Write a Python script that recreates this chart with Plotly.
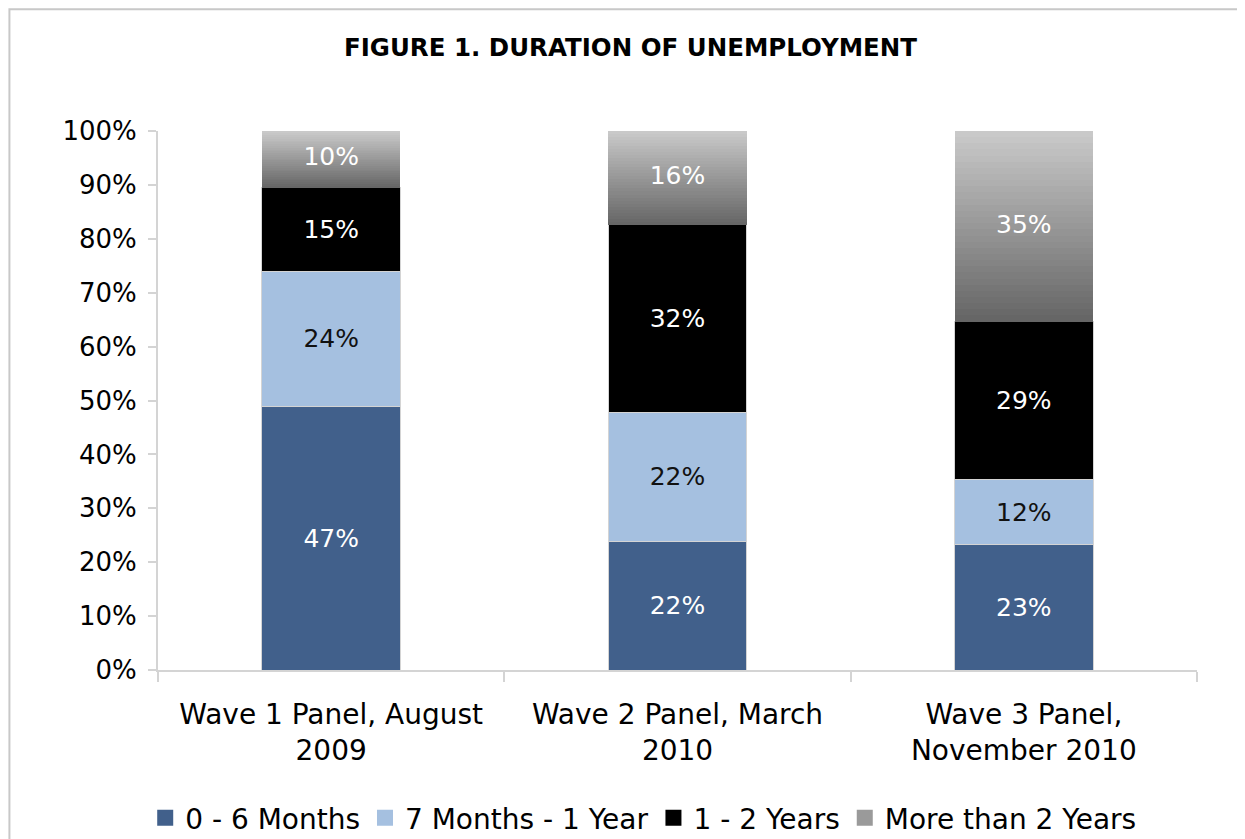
import plotly.graph_objects as go

categories = ["Wave 1 Panel, August<br>2009", "Wave 2 Panel, March<br>2010", "Wave 3 Panel,<br>November 2010"]
months_0_6 = [47, 22, 23]
months_7_12 = [24, 22, 12]
years_1_2 = [15, 32, 29]
years_2_plus = [10, 16, 35]

FONT = "DejaVu Sans"
line_style = dict(color="#d4d4d4", width=1)
LBL = 25

fig = go.Figure()

def add_seg(vals, color, txtcolor):
    fig.add_trace(go.Bar(
        x=categories, y=vals, showlegend=False,
        marker=dict(color=color, line=line_style),
        text=[f"{v}%" for v in vals], textposition="inside",
        insidetextanchor="middle", textangle=0, constraintext="none",
        textfont=dict(family=FONT, size=LBL, color=txtcolor),
        hoverinfo="skip",
    ))

add_seg(months_0_6, "#41608b", "white")
add_seg(months_7_12, "#a5c0e0", "#111111")
add_seg(years_1_2, "#000000", "white")

# gradient for "More than 2 Years": split the segment into thin slices
N = 31
c0, c1 = 0x66, 0xc9
for i in range(N):
    g = int(round(c0 + (c1 - c0) * i / (N - 1)))
    col = f"rgb({g},{g},{g})"
    fig.add_trace(go.Bar(
        x=categories, y=[v / N for v in years_2_plus],
        marker=dict(color=col, line=dict(width=0)),
        showlegend=False, hoverinfo="skip",
    ))

# labels for the gradient segment, centered using the data
totals = [a + b + c + d for a, b, c, d in zip(months_0_6, months_7_12, years_1_2, years_2_plus)]
centers = [(a + b + c + d / 2) / t * 100 for a, b, c, d, t in zip(months_0_6, months_7_12, years_1_2, years_2_plus, totals)]
fig.add_trace(go.Scatter(
    x=categories, y=centers, mode="text",
    text=[f"{v}%" for v in years_2_plus],
    textfont=dict(family=FONT, size=LBL, color="white"),
    showlegend=False, hoverinfo="skip",
))

# legend entries
for name, col in [("0 - 6 Months", "#41608b"), ("7 Months - 1 Year", "#a5c0e0"),
                  ("1 - 2 Years", "#000000"), ("More than 2 Years", "#9a9a9a")]:
    fig.add_trace(go.Scatter(
        x=[None], y=[None], mode="markers", name=name,
        marker=dict(symbol="square", size=20, color=col),
        hoverinfo="skip",
    ))

fig.update_layout(
    width=1245, height=839,
    barmode="stack", barnorm="percent", bargap=0.6,
    paper_bgcolor="white", plot_bgcolor="white",
    margin=dict(l=150, r=56, t=123, b=177),
    font=dict(family=FONT, size=24, color="black"),
    title=dict(text="<b>FIGURE 1. DURATION OF UNEMPLOYMENT</b>", x=0.5, xanchor="center",
               y=0.9535, yanchor="middle", font=dict(family=FONT, size=24.5, color="black")),
    legend=dict(orientation="h", x=0.467, xanchor="center", yref="container", y=0.0346,
                yanchor="middle", font=dict(family=FONT, size=28), traceorder="normal",
                itemsizing="trace", tracegroupgap=0),
    showlegend=True,
)
fig.update_xaxes(
    showline=True, linecolor="#d4d4d4", linewidth=2,
    ticks="outside", tickson="boundaries", ticklen=10, tickcolor="#d4d4d4", tickwidth=2,
    tickfont=dict(family=FONT, size=28, color="black"), showgrid=False,
    ticklabelstandoff=18,
)
fig.update_yaxes(
    range=[0, 100], dtick=10, ticksuffix="%",
    showline=True, linecolor="#d4d4d4", linewidth=2,
    ticks="outside", ticklen=8, tickcolor="#d4d4d4", tickwidth=2,
    tickfont=dict(family=FONT, size=26, color="black"), showgrid=False, zeroline=False,
    ticklabelstandoff=6,
)
# outer chart frame
fig.add_shape(type="rect", xref="paper", yref="paper", x0=-0.143, y0=-0.5, x1=1.2, y1=1.226,
              line=dict(color="#c8c8c8", width=2), layer="below")

fig.write_html("out.html")
